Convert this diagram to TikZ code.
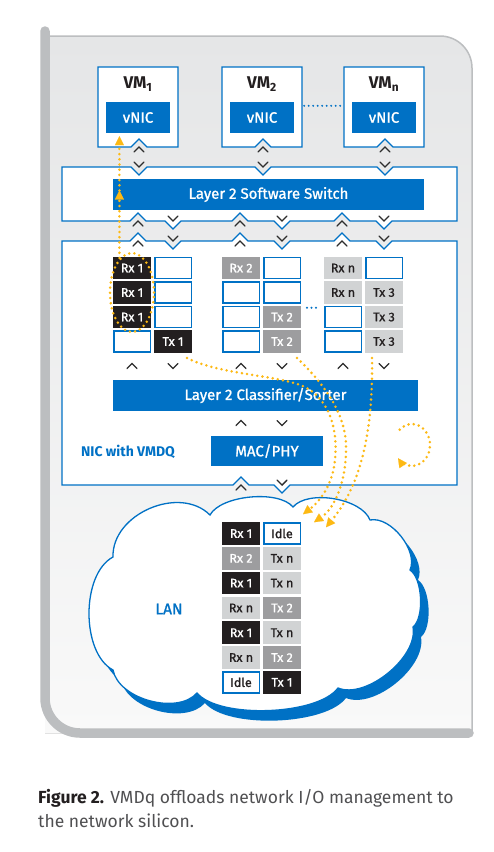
\documentclass[tikz,border=0pt]{standalone}
\usepackage{fontspec}
\setmainfont{Fira Sans}
\newfontfamily\medfont{Fira Sans}[FakeBold=1.2]
\usetikzlibrary{arrows.meta,shapes.geometric,calc}
\definecolor{iblue}{RGB}{0,113,197}
\definecolor{cblack}{RGB}{35,31,32}
\definecolor{cgray}{RGB}{157,157,159}
\definecolor{clight}{RGB}{209,211,212}
\definecolor{orng}{RGB}{253,185,19}
\definecolor{framegray}{RGB}{188,190,192}
\definecolor{bgtop}{RGB}{229,230,231}
\definecolor{bgbot}{RGB}{249,249,249}
\definecolor{chevcol}{RGB}{45,45,45}
\definecolor{captcol}{RGB}{80,80,82}
\newcommand\lancloud{(113,557) .. controls (111.7,514.0) and (179.5,484.6) .. (210,515)
 .. controls (220.7,495.2) and (278.7,489.6) .. (293,507)
 .. controls (307.9,489.3) and (361.7,498.3) .. (370,520)
 .. controls (390.6,515.8) and (418.6,550.8) .. (410,570)
 .. controls (422.5,578.0) and (424.6,617.8) .. (413,627)
 .. controls (418.5,656.9) and (366.1,699.5) .. (338,688)
 .. controls (317.7,715.5) and (219.1,719.0) .. (197,693)
 .. controls (177.4,715.2) and (118.6,699.2) .. (113,670)
 .. controls (81,653) and (81,574) .. (113,557) -- cycle}
\tikzset{
  vbox/.style={fill=white,draw=iblue,line width=1.2pt},
  bbar/.style={fill=iblue,text=white,inner sep=0pt,font=\medfont\fontsize{15}{17}\selectfont},
  qcell/.style={minimum width=38pt,minimum height=22.5pt,inner sep=0pt,font=\medfont\fontsize{12.5}{14}\selectfont},
  qw/.style={qcell,fill=white,draw=iblue,line width=1.5pt,minimum width=36.5pt,minimum height=21pt,text=cblack},
  qk/.style={qcell,fill=cblack,text=white},
  qg/.style={qcell,fill=cgray,text=white},
  ql/.style={qcell,fill=clight,text=cblack},
  chev/.style={draw=chevcol,line width=1.4pt,line cap=round,line join=miter},
  od/.style={draw=orng,line width=2.8pt,line cap=round,dash pattern=on 0pt off 5.2pt},
  otip/.style={-{Triangle[length=9pt,width=9pt,line width=0.1pt]},orng},
  bdots/.style={draw=iblue,line width=2.2pt,line cap=round,dash pattern=on 0pt off 4.5pt},
  chu/.pic={\draw[chev] (-5,2.5) -- (0,-2.5) -- (5,2.5);},
  chd/.pic={\draw[chev] (-5,-2.5) -- (0,2.5) -- (5,-2.5);},
}
\begin{document}
\begin{tikzpicture}[x=1pt,y=-1pt]
\useasboundingbox (0,0) rectangle (494,852);
\fill[white] (0,0) rectangle (494,852);
% frame
\fill[top color=bgtop,bottom color=bgbot] (45,36) -- (440,36) arc[start angle=-90,end angle=0,radius=32] -- (472,733) -- (45,733) -- cycle;
\draw[framegray,line width=1.5pt] (49,36) -- (440,36) arc[start angle=-90,end angle=0,radius=32] -- (472,733);
\draw[framegray,line width=9.5pt,line cap=round] (45,31) -- (45,698) arc[start angle=180,end angle=90,radius=35] -- (469,733);
% VM boxes
\draw[vbox] (98,67) -- (178,67) -- (178,147) -- (147,147) -- (139,139) -- (131,147) -- (98,147) -- cycle;
\draw[vbox] (222,67) -- (302,67) -- (302,147) -- (271,147) -- (263,139) -- (255,147) -- (222,147) -- cycle;
\draw[vbox] (344,67) -- (424,67) -- (424,147) -- (393,147) -- (385,139) -- (377,147) -- (344,147) -- cycle;
\node[font=\bfseries\fontsize{17}{19}\selectfont,text=cblack] (vm1) at (138,84) {VM\textsubscript{1}};
\node[font=\bfseries\fontsize{17}{19}\selectfont,text=cblack] (vm2) at (262,84) {VM\textsubscript{2}};
\node[font=\bfseries\fontsize{17}{19}\selectfont,text=cblack] (vmn) at (384,84) {VM\textsubscript{n}};
\node[bbar,minimum width=64pt,minimum height=31pt] (vnic1) at (138,117.5) {vNIC};
\node[bbar,minimum width=64pt,minimum height=31pt] (vnic2) at (262,117.5) {vNIC};
\node[bbar,minimum width=64pt,minimum height=31pt] (vnicn) at (384,117.5) {vNIC};
\draw[bdots] ($(vnic2.north east)+(10,4)$) -- ($(vnicn.north west)+(-10,4)$);
% switch box
\draw[vbox] (62,167) -- (131,167) -- (139,175) -- (147,167) -- (255,167) -- (263,175) -- (271,167) -- (377,167) -- (385,175) -- (393,167) -- (457,167) -- (457,221)
 -- (392,221) -- (384,229) -- (376,221) -- (350,221) -- (342,213) -- (334,221) -- (290,221) -- (282,229) -- (274,221) -- (248,221) -- (240,213) -- (232,221)
 -- (181,221) -- (173,229) -- (165,221) -- (146,221) -- (138,213) -- (130,221) -- (62,221) -- cycle;
\node[bbar,minimum width=311pt,minimum height=31pt] (swbar) at (268.5,194.5) {Layer 2 Software Switch};
% NIC box
\draw[vbox] (62,241) -- (130,241) -- (138,233) -- (146,241) -- (165,241) -- (173,249) -- (181,241) -- (232,241) -- (240,233) -- (248,241) -- (274,241) -- (282,249) -- (290,241)
 -- (334,241) -- (342,233) -- (350,241) -- (376,241) -- (384,249) -- (392,241) -- (457,241) -- (457,485)
 -- (290,485) -- (282,493) -- (274,485) -- (249,485) -- (241,477) -- (233,485) -- (62,485) -- cycle;
% queues group 1
\node[qk] (a11) at (132,268) {Rx 1};
\node[qw] (a21) at (173,268) {};
\node[qk] (a12) at (132,292.5) {Rx 1};
\node[qw] (a22) at (173,292.5) {};
\node[qk] (a13) at (132,317) {Rx 1};
\node[qw] (a23) at (173,317) {};
\node[qw] (a14) at (132,341.5) {};
\node[qk] (a24) at (173,341.5) {Tx 1};
% group 2
\node[qg] (b11) at (241,268) {Rx 2};
\node[qw] (b21) at (282,268) {};
\node[qw] (b12) at (241,292.5) {};
\node[qw] (b22) at (282,292.5) {};
\node[qw] (b13) at (241,317) {};
\node[qg] (b23) at (282,317) {Tx 2};
\node[qw] (b14) at (241,341.5) {};
\node[qg] (b24) at (282,341.5) {Tx 2};
% group 3
\node[ql] (c11) at (343,268) {Rx n};
\node[qw] (c21) at (384,268) {};
\node[ql] (c12) at (343,292.5) {Rx n};
\node[ql] (c22) at (384,292.5) {Tx 3};
\node[qw] (c13) at (343,317) {};
\node[ql] (c23) at (384,317) {Tx 3};
\node[qw] (c14) at (343,341.5) {};
\node[ql] (c24) at (384,341.5) {Tx 3};
\draw[bdots] ($(b22.south east)+(6,4)$) -- ($(b22.south east)+(17,4)$);
% classifier, MAC
\node[bbar,minimum width=305pt,minimum height=31pt] (cls) at (265.5,395.5) {Layer 2 Classifier/Sorter};
\node[bbar,minimum width=112pt,minimum height=30pt] (mac) at (267,451) {MAC/PHY};
\node[font=\bfseries\fontsize{14}{16}\selectfont,text=iblue] (niclbl) at (128,452) {NIC with VMDQ};
% chevrons
\foreach \x in {139,263,385} { \pic at (\x,149.5) {chu}; \pic at (\x,164.5) {chd}; }
\foreach \x in {138,240,342} { \pic at (\x,223.5) {chu}; \pic at (\x,243.5) {chu}; }
\foreach \x in {173,282,384} { \pic at (\x,218.5) {chd}; \pic at (\x,238.5) {chd}; }
\foreach \x in {132,241,343} { \pic at (\x,366) {chu}; }
\foreach \x in {173,282,384} { \pic at (\x,366) {chd}; }
\pic at (241,423) {chu}; \pic at (282,423) {chd};
\pic at (241,487.5) {chu}; \pic at (282,482.5) {chd};
% cloud
\fill[iblue,shift={(8,10)}] \lancloud;
\draw[iblue,line width=1.3pt,fill=white] \lancloud;
\node[font=\medfont\fontsize{15.5}{17}\selectfont,text=iblue] (lan) at (169,609) {LAN};
\node[qk] (t11) at (241,533.5) {Rx 1}; \node[qw] (t21) at (282,533.5) {Idle};
\node[qg] (t12) at (241,558.3) {Rx 2}; \node[ql] (t22) at (282,558.3) {Tx n};
\node[qk] (t13) at (241,583.1) {Rx 1}; \node[ql] (t23) at (282,583.1) {Tx n};
\node[ql] (t14) at (241,607.9) {Rx n}; \node[qg] (t24) at (282,607.9) {Tx 2};
\node[qk] (t15) at (241,632.7) {Rx 1}; \node[ql] (t25) at (282,632.7) {Tx n};
\node[ql] (t16) at (241,657.5) {Rx n}; \node[qg] (t26) at (282,657.5) {Tx 2};
\node[qw] (t17) at (241,682.3) {Idle}; \node[qk] (t27) at (282,682.3) {Tx 1};
% orange flows
\node[ellipse,od,minimum width=44pt,minimum height=79pt,inner sep=0pt] (ring) at (132,292.5) {};
\coordinate (midtip) at ($(ring.110 |- swbar.center)+(0,-4)$);
\draw[od,otip] (ring.110) -- (midtip);
\draw[od,otip] (midtip) -- ($(ring.110 |- vnic1.south)+(0,3)$);
\coordinate (s1) at ($(a24.south)+(14,5)$);
\coordinate (s2) at ($(b24.south)+(15,5)$);
\coordinate (s3) at ($(c24.south)+(-12,5)$);
\coordinate (e1) at ($(t21.north east)+(2,-8)$);
\coordinate (e2) at ($(t21.north east)+(13,0)$);
\coordinate (e3) at ($(t21.north east)+(25,5)$);
\draw[od,otip] (s1) .. controls (220,375) and (280,375) .. (305,387) .. controls (330,400) and (338,430) .. (335,460) .. controls (332,490) and (315,505) .. (e1);
\draw[od,otip] (s2) .. controls (320,380) and (345,410) .. (346,445) .. controls (347,480) and (335,508) .. (e2);
\draw[od,otip] (s3) .. controls (373,420) and (365,480) .. (e3);
\coordinate (loopc) at (412,445);
\draw[od,otip] ($(loopc)+({18*cos(-133)},{21*sin(-133)})$) arc[start angle=-133,end angle=141,x radius=18,y radius=21];
% caption
\node[anchor=base west,inner sep=0pt,font=\fontsize{17.5}{21}\selectfont,text=captcol] (cap1) at (38,803) {\textcolor{cblack}{\textbf{Figure 2.}} VMDq offloads network I/O management to};
\node[anchor=base west,inner sep=0pt,font=\fontsize{17.5}{21}\selectfont,text=captcol] (cap2) at (38,827) {the network silicon.};
\end{tikzpicture}
\end{document}
